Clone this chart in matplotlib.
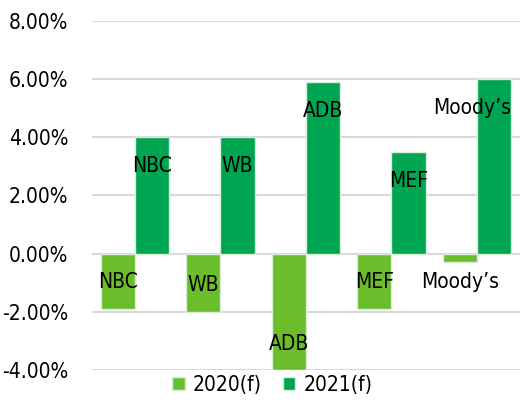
import matplotlib

matplotlib.use("Agg")

import matplotlib.pyplot as plt
import numpy as np
from matplotlib import font_manager
from matplotlib.ticker import FuncFormatter

sources = ["NBC", "WB", "ADB", "MEF", "Moody\u2019s"]
growth_2020 = [-1.9, -2.0, -4.0, -1.9, -0.3]
growth_2021 = [4.0, 4.0, 5.9, 3.5, 6.0]
series_names = ["2020(f)", "2021(f)"]
y_ticks = [-4, -2, 0, 2, 4, 6, 8]

color_2020 = "#6cbd2b"
color_2021 = "#00a551"
edge = "#d8eedb"


def _pick_narrow_font():
    # the original uses a condensed face; use one if the machine has it
    for entry in font_manager.fontManager.ttflist:
        narrow = ("Condensed" in entry.name or "Narrow" in entry.name
                  or entry.stretch in ("condensed", "semi-condensed", "extra-condensed"))
        if narrow and entry.style == "normal" and entry.weight in (400, "normal", "regular"):
            return entry.name, entry.stretch
    return None, None


narrow_name, narrow_stretch = _pick_narrow_font()
if narrow_name:
    plt.rcParams["font.family"] = [narrow_name, "DejaVu Sans"]
    plt.rcParams["font.stretch"] = narrow_stretch
    size = 15
else:
    plt.rcParams["font.family"] = ["DejaVu Sans"]
    size = 12

fig = plt.figure(figsize=(5.32, 4.03), dpi=100)
ax = fig.add_axes([0.173, 0.082, 0.804, 0.866])

x = np.arange(len(sources))
width = 0.4
bars_a = ax.bar(x - width / 2, growth_2020, width, color=color_2020,
                edgecolor=edge, linewidth=1.0, label=series_names[0], zorder=3)
bars_b = ax.bar(x + width / 2, growth_2021, width, color=color_2021,
                edgecolor=edge, linewidth=1.0, label=series_names[1], zorder=3)

# data labels at the inner end of each bar (outside if the bar is too short)
for bars, values in ((bars_a, growth_2020), (bars_b, growth_2021)):
    for rect, name, v in zip(bars, sources, values):
        cx = rect.get_x() + rect.get_width() / 2
        ha = "center"
        if abs(v) < 1.0:
            dy = -14
        elif v > 0:
            dy = -21
            if len(name) > 4:
                ha = "right"
                cx = rect.get_x() + rect.get_width()
        else:
            dy = 19
        ax.annotate(name, (cx, v), xytext=(0, dy), textcoords="offset points",
                    ha=ha, va="center", fontsize=size, zorder=4)

ax.set_xlim(-0.5, len(sources) - 0.5)
ax.set_ylim(y_ticks[0], y_ticks[-1])
ax.set_yticks(y_ticks)
ax.yaxis.set_major_formatter(FuncFormatter(lambda v, _: f"{v:.2f}%"))
ax.set_xticks([])
ax.tick_params(axis="y", length=0, pad=17, labelsize=size)
ax.grid(axis="y", color="#d9d9d9", linewidth=1.5, zorder=0)
for spine in ax.spines.values():
    spine.set_visible(False)

fig.legend(loc="center", bbox_to_anchor=(0.512, 0.045), ncol=2, frameon=False,
           fontsize=size, handlelength=0.6, handleheight=0.6, handletextpad=0.4,
           columnspacing=1.0)

fig.savefig("out.png", dpi=100)
plt.close(fig)
